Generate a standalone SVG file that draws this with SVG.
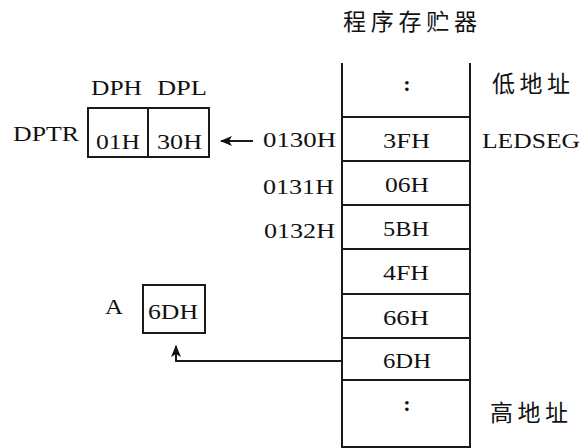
<svg xmlns="http://www.w3.org/2000/svg" width="583" height="448" viewBox="0 0 583 448">
<defs>
<style>
.t{font-family:"Liberation Serif",serif;font-size:22px;fill:#111}
.c{font-family:"Noto Sans CJK SC","Noto Sans CJK JP",sans-serif;font-size:23px;fill:#111}
.ln{stroke:#1a1a1a;stroke-width:2;fill:none}
.box{stroke:#1a1a1a;stroke-width:2;fill:#fff}
</style>
<marker id="ah" markerWidth="12" markerHeight="10" refX="11" refY="5" orient="auto" markerUnits="userSpaceOnUse">
<path d="M0,0 L12,5 L0,10 L3,5 Z" fill="#111"/>
</marker>
</defs>
<rect width="583" height="448" fill="#fff"/>
<text class="c" x="343" y="30" textLength="134" lengthAdjust="spacing">程序存贮器</text>
<g id="memory">
<path class="ln" d="M342,63 V447 H470 V63"/>
<path class="ln" d="M342,117 H470 M342,161 H470 M342,205 H470 M342,249 H470 M342,294 H470 M342,338 H470 M342,380 H470"/>
<text class="t" x="407" y="91" text-anchor="middle" font-weight="bold">:</text>
<text class="t" x="383" y="148" textLength="47" lengthAdjust="spacingAndGlyphs">3FH</text>
<text class="t" x="385" y="192" textLength="44" lengthAdjust="spacingAndGlyphs">06H</text>
<text class="t" x="383" y="236" textLength="46" lengthAdjust="spacingAndGlyphs">5BH</text>
<text class="t" x="383" y="280" textLength="46" lengthAdjust="spacingAndGlyphs">4FH</text>
<text class="t" x="383" y="325" textLength="46" lengthAdjust="spacingAndGlyphs">66H</text>
<text class="t" x="383" y="368" textLength="48" lengthAdjust="spacingAndGlyphs">6DH</text>
<text class="t" x="407" y="411" text-anchor="middle" font-weight="bold">:</text>
</g>
<g id="labels">
<text class="c" x="492" y="92" textLength="78" lengthAdjust="spacing">低地址</text>
<text class="c" x="490" y="421" textLength="78" lengthAdjust="spacing">高地址</text>
<text class="t" x="482" y="148" textLength="98" lengthAdjust="spacingAndGlyphs">LEDSEG</text>
<text class="t" x="263" y="147" textLength="73" lengthAdjust="spacingAndGlyphs">0130H</text>
<text class="t" x="263" y="194" textLength="71" lengthAdjust="spacingAndGlyphs">0131H</text>
<text class="t" x="264" y="238" textLength="71" lengthAdjust="spacingAndGlyphs">0132H</text>
</g>
<g id="dptr">
<text class="t" x="91" y="95" textLength="51" lengthAdjust="spacingAndGlyphs">DPH</text>
<text class="t" x="157" y="95" textLength="50" lengthAdjust="spacingAndGlyphs">DPL</text>
<text class="t" x="13" y="141" textLength="66" lengthAdjust="spacingAndGlyphs">DPTR</text>
<rect class="box" x="88" y="108" width="121" height="49"/>
<line class="ln" x1="148" y1="108" x2="148" y2="157"/>
<text class="t" x="96" y="149" textLength="44" lengthAdjust="spacingAndGlyphs">01H</text>
<text class="t" x="157" y="149" textLength="45" lengthAdjust="spacingAndGlyphs">30H</text>
</g>
<g id="regA">
<text class="t" x="105" y="314" textLength="18" lengthAdjust="spacingAndGlyphs">A</text>
<rect class="box" x="143" y="285" width="62" height="48"/>
<text class="t" x="148" y="319" textLength="50" lengthAdjust="spacingAndGlyphs">6DH</text>
</g>
<g id="connectors">
<line class="ln" x1="253" y1="141" x2="221" y2="141" marker-end="url(#ah)"/>
<path class="ln" d="M342,361 H176 V346" marker-end="url(#ah)"/>
</g>
</svg>
